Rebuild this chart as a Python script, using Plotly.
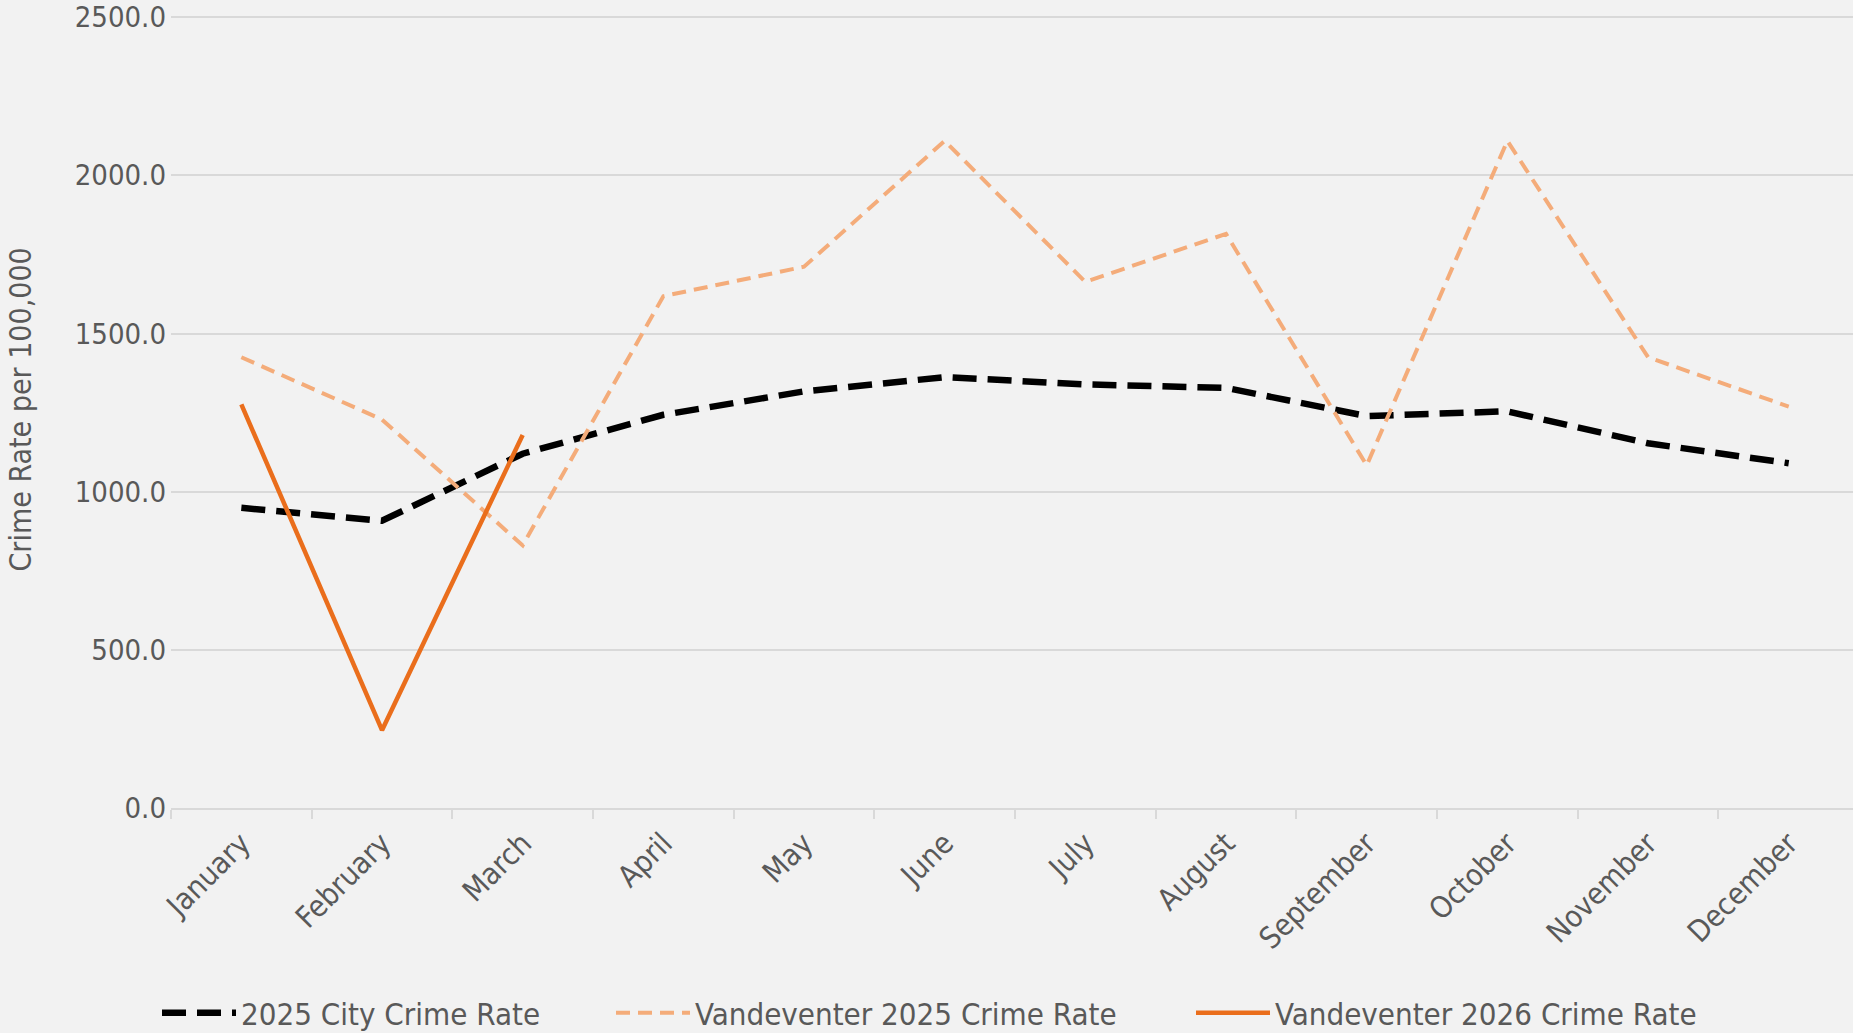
import plotly.graph_objects as go

months = ["January", "February", "March", "April", "May", "June", "July",
          "August", "September", "October", "November", "December"]
city_2025 = [949, 908, 1120, 1243, 1317, 1362, 1339, 1328, 1239, 1254, 1153, 1090]
vand_2025 = [1425, 1228, 830, 1618, 1711, 2109, 1663, 1815, 1083, 2109, 1425, 1269]
vand_2026 = [1276, 246, 1179]
y_ticks = [0, 500, 1000, 1500, 2000, 2500]

FONT = "DejaVu Sans Condensed, DejaVu Sans, sans-serif"
GREY = "#595959"
W, H = 1853, 1033

fig = go.Figure()
fig.add_trace(go.Scatter(x=months, y=city_2025, mode="lines", name="2025 City Crime Rate",
                         line=dict(color="#000000", width=6.5, dash="24px,11px"),
                         legend="legend", showlegend=True))
fig.add_trace(go.Scatter(x=months, y=vand_2025, mode="lines", name="Vandeventer 2025 Crime Rate",
                         line=dict(color="#F4AC7A", width=4, dash="14px,8px"),
                         legend="legend2", showlegend=True))
fig.add_trace(go.Scatter(x=months[:len(vand_2026)], y=vand_2026, mode="lines",
                         name="Vandeventer 2026 Crime Rate",
                         line=dict(color="#EA6E1C", width=4.5),
                         legend="legend3", showlegend=True))

leg_common = dict(orientation="h", xref="container", yref="container", yanchor="middle",
                  y=1 - 1013 / H, xanchor="left", bgcolor="rgba(0,0,0,0)",
                  font=dict(family=FONT, size=31, color=GREY), itemwidth=74)

fig.update_layout(
    width=W, height=H, showlegend=True,
    paper_bgcolor="#F2F2F2", plot_bgcolor="#F2F2F2",
    margin=dict(l=171, r=0, t=11, b=H - 808),
    font=dict(family=FONT, size=29, color=GREY),
    legend=dict(**leg_common, x=157 / W),
    legend2=dict(**leg_common, x=611 / W),
    legend3=dict(**leg_common, x=1191 / W),
    xaxis=dict(type="category", range=[-0.5, 11.457], showgrid=False,
               showline=True, linecolor="#D9D9D9", linewidth=1.5,
               ticks="outside", tickson="boundaries", ticklen=9, tickcolor="#D9D9D9",
               tickwidth=1.5, tickangle=-45, ticklabelstandoff=4,
               tickfont=dict(family=FONT, size=30, color=GREY)),
    yaxis=dict(range=[0, 2510], tickvals=y_ticks, ticktext=[f"{v:.1f}" for v in y_ticks],
               showgrid=True, gridcolor="#D9D9D9", gridwidth=1.5, zeroline=False,
               showline=False, ticks="", ticklabelstandoff=4, ticklabeloverflow="allow",
               tickfont=dict(family=FONT, size=29, color=GREY)),
    annotations=[dict(text="Crime Rate per 100,000", xref="paper", yref="paper",
                      x=(21 - 171) / (W - 171), y=(408 - 808) / (11 - 808), xanchor="center",
                      yanchor="middle", textangle=-90, showarrow=False,
                      font=dict(family=FONT, size=30, color=GREY))],
)

fig.write_html("out.html", config={"displayModeBar": False},
               post_script="document.body.style.margin='0';document.body.style.overflow='hidden';")
